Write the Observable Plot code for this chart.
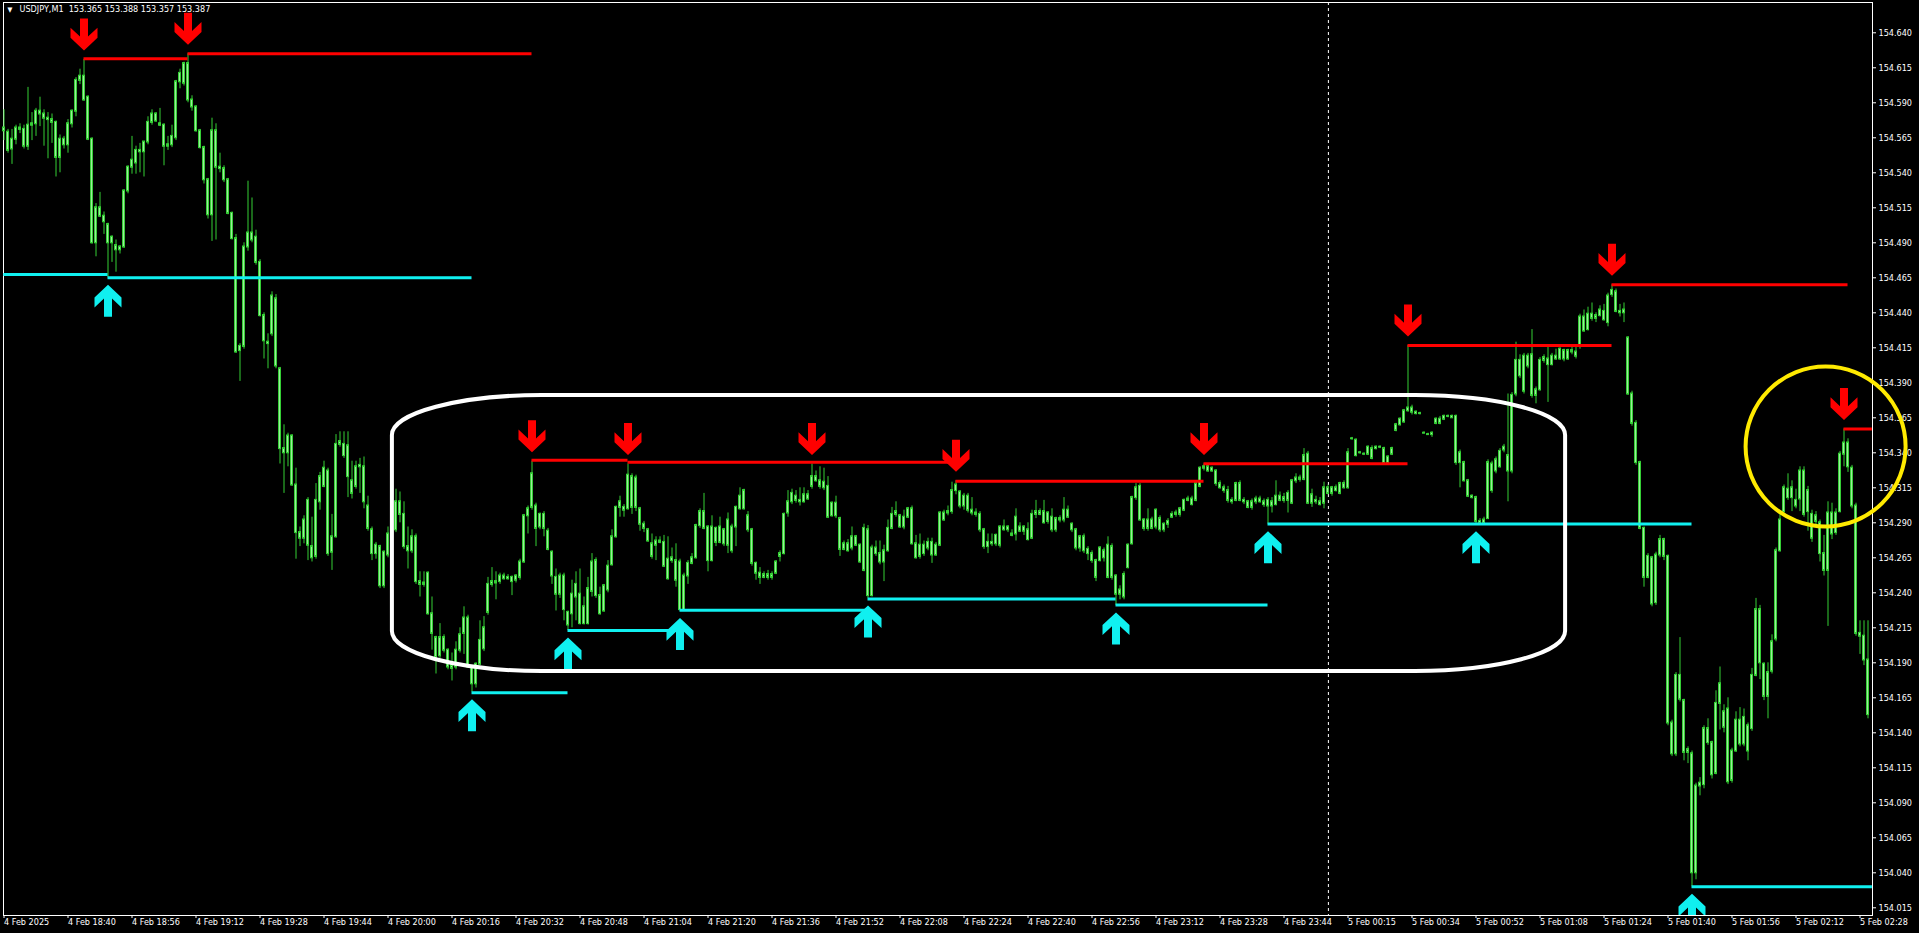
<!DOCTYPE html>
<html><head><meta charset="utf-8">
<script src="https://cdn.jsdelivr.net/npm/d3@7"></script>
<script src="https://cdn.jsdelivr.net/npm/@observablehq/plot@0.6"></script>
<style>html,body{margin:0;padding:0;background:#000;overflow:hidden}</style>
</head><body><div id="chart"></div>
<script>
const header = "USDJPY,M1  153.365 153.388 153.357 153.387";

const open = [154.572,154.569,154.557,154.564,154.572,154.571,154.559,154.574,154.575,154.584,
154.582,154.579,154.578,154.576,154.551,154.564,154.560,154.575,154.584,154.606,
154.609,154.594,154.564,154.490,154.515,154.509,154.503,154.490,154.488,154.485,
154.487,154.527,154.544,154.547,154.556,154.555,154.562,154.576,154.582,154.575,
154.574,154.559,154.560,154.565,154.605,154.604,154.618,154.592,154.587,154.570,
154.558,154.535,154.510,154.570,154.544,154.543,154.535,154.511,154.493,154.413,
154.416,154.487,154.497,154.494,154.476,154.438,154.419,154.425,154.450,154.400,
154.343,154.340,154.352,154.317,154.283,154.279,154.306,154.273,154.266,154.305,
154.316,154.327,154.269,154.280,154.346,154.346,154.345,154.320,154.316,154.331,
154.330,154.302,154.285,154.268,154.273,154.245,154.267,154.282,154.285,154.305,
154.296,154.273,154.270,154.280,154.248,154.246,154.254,154.225,154.208,154.195,
154.208,154.199,154.188,154.187,154.199,154.211,154.222,154.186,154.175,154.189,
154.200,154.226,154.246,154.248,154.248,154.252,154.250,154.251,154.249,154.251,
154.262,154.295,154.301,154.302,154.287,154.296,154.284,154.269,154.251,154.239,
154.252,154.226,154.225,154.237,154.239,154.218,154.218,154.241,154.263,154.238,
154.227,154.242,154.260,154.280,154.301,154.301,154.300,154.323,154.301,154.300,
154.289,154.285,154.275,154.274,154.277,154.276,154.264,154.265,154.263,154.262,
154.228,154.252,154.261,154.265,154.288,154.298,154.287,154.263,154.286,154.276,
154.285,154.274,154.287,154.287,154.300,154.313,154.295,154.285,154.261,154.254,
154.251,154.253,154.251,154.254,154.266,154.268,154.297,154.305,154.309,154.306,
154.305,154.310,154.316,154.323,154.320,154.315,154.316,154.295,154.304,154.293,
154.271,154.275,154.272,154.280,154.274,154.256,154.285,154.238,154.272,154.268,
154.262,154.270,154.286,154.296,154.295,154.287,154.294,154.300,154.275,154.266,
154.274,154.272,154.276,154.267,154.274,154.297,154.297,154.298,154.313,154.312,
154.302,154.309,154.299,154.297,154.296,154.285,154.273,154.276,154.281,154.274,
154.287,154.285,154.282,154.282,154.287,154.284,154.285,154.279,154.296,154.298,
154.298,154.291,154.294,154.285,154.293,154.292,154.299,154.289,154.285,154.272,
154.280,154.271,154.268,154.263,154.263,154.270,154.251,154.273,154.252,154.239,
154.237,154.258,154.275,154.308,154.316,154.292,154.286,154.292,154.287,154.293,
154.285,154.289,154.294,154.296,154.296,154.299,154.306,154.307,154.306,154.316,
154.329,154.330,154.327,154.327,154.318,154.315,154.313,154.306,154.306,154.318,
154.306,154.305,154.301,154.305,154.307,154.305,154.306,154.302,154.303,154.309,
154.306,154.306,154.304,154.320,154.322,154.321,154.339,154.304,154.306,154.305,
154.304,154.315,154.311,154.315,154.311,154.318,154.315,154.350,154.349,154.340,
154.339,154.339,154.343,154.343,154.344,154.343,154.333,154.339,154.356,154.360,
154.362,154.370,154.372,154.369,154.368,154.354,154.353,154.353,154.361,154.364,
154.364,154.366,154.366,154.366,154.340,154.333,154.320,154.309,154.308,154.291,
154.290,154.293,154.332,154.327,154.330,154.342,154.338,154.327,154.382,154.406,
154.384,154.409,154.410,154.381,154.385,154.406,154.407,154.403,154.409,154.407,
154.413,154.407,154.413,154.412,154.416,154.437,154.428,154.439,154.436,154.438,
154.441,154.433,154.453,154.455,154.441,154.440,154.422,154.382,154.361,154.333,
154.286,154.251,154.265,154.233,154.267,154.278,154.266,154.147,154.125,154.181,
154.163,154.126,154.125,154.040,154.102,154.103,154.143,154.133,154.111,154.161,
154.155,154.157,154.106,154.127,154.149,154.132,154.145,154.143,154.181,154.228,
154.189,154.166,154.184,154.207,154.270,154.298,154.314,154.308,154.306,154.307,
154.327,154.298,154.296,154.291,154.290,154.268,154.256,154.297,154.283,154.298,
154.339,154.347,154.329,154.302,154.211,154.209,154.192];

const high = [154.585,154.571,154.571,154.574,154.575,154.574,154.601,154.583,154.586,154.594,
154.585,154.583,154.582,154.577,154.567,154.566,154.578,154.585,154.608,154.614,
154.621,154.595,154.565,154.518,154.526,154.512,154.504,154.495,154.492,154.488,
154.528,154.545,154.566,154.559,154.561,154.562,154.580,154.585,154.583,154.586,
154.575,154.566,154.574,154.606,154.614,154.619,154.625,154.595,154.588,154.571,
154.559,154.536,154.579,154.575,154.554,154.545,154.536,154.512,154.496,154.418,
154.490,154.534,154.522,154.499,154.478,154.440,154.425,154.455,154.453,154.401,
154.360,154.354,154.353,154.329,154.287,154.295,154.308,154.294,154.318,154.326,
154.334,154.329,154.296,154.353,154.355,154.355,154.355,154.334,154.334,154.336,
154.337,154.309,154.287,154.276,154.274,154.270,154.287,154.300,154.314,154.312,
154.305,154.287,154.285,154.282,154.255,154.255,154.255,154.237,154.209,154.218,
154.210,154.200,154.197,154.205,154.215,154.230,154.224,154.187,154.190,154.220,
154.223,154.251,154.258,154.255,154.254,154.254,154.253,154.252,154.253,154.264,
154.296,154.302,154.334,154.304,154.297,154.298,154.286,154.270,154.257,154.254,
154.254,154.227,154.249,154.255,154.257,154.237,154.251,154.268,154.265,154.244,
154.246,154.263,154.285,154.302,154.309,154.303,154.332,154.325,154.324,154.301,
154.291,154.286,154.282,154.280,154.280,154.281,154.280,154.272,154.275,154.264,
154.254,154.263,154.268,154.289,154.300,154.311,154.288,154.295,154.287,154.294,
154.286,154.297,154.289,154.302,154.315,154.314,154.298,154.286,154.262,154.258,
154.255,154.256,154.255,154.263,154.270,154.297,154.313,154.314,154.313,154.315,
154.315,154.313,154.332,154.327,154.330,154.329,154.323,154.305,154.309,154.294,
154.277,154.278,154.287,154.281,154.275,154.289,154.288,154.274,154.277,154.277,
154.274,154.292,154.301,154.305,154.296,154.299,154.301,154.302,154.281,154.282,
154.277,154.279,154.279,154.276,154.298,154.299,154.302,154.319,154.320,154.313,
154.311,154.311,154.308,154.300,154.298,154.286,154.282,154.282,154.282,154.288,
154.292,154.288,154.285,154.300,154.290,154.288,154.290,154.299,154.306,154.300,
154.306,154.298,154.300,154.294,154.295,154.308,154.302,154.290,154.286,154.281,
154.282,154.273,154.270,154.264,154.273,154.272,154.280,154.275,154.253,154.245,
154.255,154.275,154.309,154.318,154.318,154.293,154.300,154.294,154.300,154.295,
154.290,154.293,154.298,154.299,154.301,154.307,154.309,154.309,154.318,154.330,
154.332,154.331,154.330,154.328,154.320,154.317,154.316,154.308,154.319,154.320,
154.308,154.306,154.307,154.309,154.309,154.307,154.308,154.308,154.320,154.312,
154.311,154.313,154.321,154.325,154.324,154.343,154.341,154.314,154.309,154.308,
154.319,154.317,154.316,154.317,154.319,154.320,154.343,154.351,154.350,154.341,
154.340,154.345,154.345,154.345,154.345,154.344,154.338,154.344,154.361,154.365,
154.371,154.4166,154.374,154.370,154.369,154.355,154.354,154.355,154.365,154.366,
154.367,154.367,154.367,154.367,154.342,154.334,154.321,154.310,154.309,154.293,
154.294,154.335,154.334,154.337,154.343,154.346,154.382,154.383,154.419,154.410,
154.411,154.411,154.428,154.387,154.408,154.410,154.416,154.411,154.414,154.415,
154.414,154.414,154.416,154.417,154.439,154.442,154.444,154.447,154.440,154.445,
154.446,154.454,154.460,154.457,154.446,154.447,154.423,154.384,154.363,154.334,
154.287,154.268,154.266,154.269,154.281,154.279,154.267,154.149,154.183,154.208,
154.164,154.130,154.127,154.104,154.108,154.145,154.150,154.134,154.170,154.187,
154.160,154.165,154.129,154.155,154.158,154.157,154.147,154.186,154.236,154.231,
154.190,154.190,154.210,154.272,154.296,154.317,154.325,154.320,154.314,154.330,
154.330,154.316,154.299,154.298,154.292,154.281,154.305,154.304,154.300,154.341,
154.357,154.350,154.331,154.304,154.220,154.220,154.220];

const low = [154.563,154.554,154.546,154.560,154.568,154.557,154.556,154.563,154.566,154.573,
154.559,154.550,154.561,154.537,154.540,154.557,154.554,154.572,154.580,154.603,
154.591,154.563,154.489,154.480,154.508,154.496,154.465,154.476,154.469,154.482,
154.486,154.525,154.539,154.539,154.540,154.537,154.560,154.574,154.576,154.573,
154.545,154.556,154.558,154.563,154.600,154.602,154.590,154.584,154.569,154.557,
154.532,154.507,154.491,154.492,154.540,154.533,154.510,154.492,154.411,154.391,
154.414,154.484,154.490,154.474,154.437,154.407,154.400,154.423,154.400,154.332,
154.311,154.330,154.316,154.264,154.273,154.275,154.263,154.262,154.264,154.299,
154.315,154.266,154.256,154.279,154.344,154.336,154.308,154.307,154.314,154.311,
154.300,154.284,154.263,154.264,154.243,154.243,154.265,154.280,154.283,154.290,
154.271,154.257,154.268,154.246,154.237,154.244,154.224,154.199,154.182,154.193,
154.197,154.185,154.177,154.185,154.197,154.196,154.186,154.169,154.172,154.188,
154.198,154.224,154.244,154.235,154.246,154.249,154.249,154.238,154.247,154.249,
154.261,154.282,154.299,154.273,154.285,154.280,154.270,154.246,154.227,154.236,
154.220,154.213,154.215,154.220,154.217,154.217,154.217,154.237,154.236,154.224,
154.226,154.240,154.259,154.279,154.294,154.294,154.299,154.296,154.298,154.284,
154.283,154.276,154.264,154.263,154.275,154.258,154.249,154.261,154.244,154.227,
154.227,154.246,154.260,154.264,154.286,154.285,154.255,154.262,154.273,154.275,
154.273,154.268,154.268,154.273,154.299,154.299,154.283,154.259,154.249,154.246,
154.250,154.249,154.249,154.253,154.262,154.267,154.294,154.303,154.304,154.302,
154.304,154.306,154.314,154.319,154.314,154.313,154.293,154.294,154.293,154.266,
154.270,154.269,154.270,154.273,154.261,154.255,154.236,154.237,154.266,154.260,
154.248,154.269,154.285,154.294,154.286,154.285,154.293,154.274,154.264,154.264,
154.266,154.270,154.261,154.266,154.273,154.291,154.295,154.296,154.310,154.300,
154.299,154.297,154.295,154.294,154.283,154.271,154.268,154.273,154.273,154.272,
154.284,154.283,154.280,154.277,154.283,154.281,154.277,154.278,154.293,154.295,
154.289,154.289,154.283,154.283,154.290,154.290,154.293,154.283,154.270,154.269,
154.268,154.263,154.261,154.248,154.262,154.262,154.250,154.249,154.231,154.235,
154.235,154.257,154.274,154.306,154.291,154.284,154.284,154.285,154.285,154.283,
154.283,154.286,154.293,154.294,154.294,154.298,154.305,154.302,154.305,154.315,
154.327,154.326,154.326,154.316,154.314,154.311,154.304,154.303,154.305,154.305,
154.303,154.300,154.299,154.303,154.304,154.301,154.289,154.297,154.302,154.305,
154.304,154.297,154.303,154.318,154.319,154.320,154.303,154.301,154.303,154.302,
154.300,154.310,154.309,154.312,154.310,154.314,154.314,154.349,154.337,154.339,
154.338,154.338,154.335,154.342,154.343,154.331,154.332,154.338,154.355,154.359,
154.361,154.369,154.367,154.367,154.367,154.354,154.353,154.351,154.360,154.360,
154.363,154.365,154.365,154.331,154.315,154.319,154.308,154.307,154.289,154.290,
154.290,154.293,154.311,154.325,154.329,154.340,154.305,154.325,154.380,154.393,
154.382,154.400,154.379,154.375,154.384,154.404,154.376,154.402,154.406,154.406,
154.405,154.406,154.410,154.407,154.414,154.426,154.427,154.434,154.433,154.437,
154.434,154.430,154.451,154.440,154.437,154.433,154.381,154.359,154.331,154.285,
154.244,154.250,154.230,154.231,154.265,154.263,154.145,154.123,154.123,154.162,
154.120,154.118,154.030,154.035,154.095,154.100,154.131,154.107,154.110,154.142,
154.140,154.103,154.104,154.126,154.130,154.130,154.120,154.141,154.180,154.178,
154.163,154.150,154.182,154.205,154.269,154.297,154.306,154.298,154.300,154.298,
154.294,154.284,154.276,154.287,154.262,154.252,154.216,154.278,154.281,154.297,
154.330,154.326,154.300,154.209,154.196,154.188,154.150];

const close = [154.570,154.556,154.564,154.572,154.571,154.559,154.574,154.575,154.584,154.582,
154.579,154.578,154.576,154.551,154.564,154.560,154.575,154.584,154.606,154.609,
154.592,154.564,154.490,154.515,154.509,154.505,154.490,154.494,154.485,154.487,
154.527,154.544,154.549,154.556,154.555,154.562,154.576,154.582,154.577,154.574,
154.559,154.560,154.566,154.605,154.611,154.618,154.592,154.587,154.570,154.558,
154.535,154.510,154.570,154.544,154.543,154.535,154.511,154.493,154.412,154.416,
154.487,154.497,154.492,154.476,154.438,154.420,154.418,154.452,154.402,154.343,
154.340,154.352,154.317,154.283,154.279,154.292,154.274,154.265,154.306,154.323,
154.329,154.268,154.280,154.346,154.348,154.338,154.323,154.311,154.330,154.330,
154.305,154.286,154.268,154.274,154.245,154.269,154.282,154.297,154.305,154.296,
154.273,154.270,154.280,154.248,154.246,154.247,154.225,154.211,154.194,154.208,
154.199,154.187,154.186,154.199,154.210,154.222,154.187,154.175,154.189,154.206,
154.215,154.246,154.248,154.247,154.252,154.250,154.251,154.248,154.252,154.262,
154.295,154.300,154.325,154.286,154.296,154.286,154.271,154.252,154.239,154.252,
154.228,154.217,154.239,154.246,154.218,154.230,154.243,154.262,154.238,154.225,
154.245,154.259,154.280,154.301,154.305,154.299,154.324,154.301,154.322,154.289,
154.286,154.277,154.266,154.277,154.276,154.259,154.250,154.263,154.249,154.228,
154.252,154.261,154.265,154.288,154.298,154.286,154.263,154.287,154.276,154.287,
154.275,154.292,154.270,154.301,154.309,154.300,154.285,154.261,154.254,154.251,
154.253,154.251,154.253,154.262,154.268,154.296,154.305,154.311,154.306,154.305,
154.310,154.307,154.323,154.320,154.316,154.319,154.294,154.304,154.295,154.271,
154.275,154.270,154.280,154.274,154.262,154.286,154.238,154.272,154.268,154.262,
154.270,154.286,154.296,154.298,154.287,154.294,154.300,154.275,154.265,154.274,
154.268,154.276,154.267,154.274,154.297,154.292,154.298,154.313,154.317,154.302,
154.309,154.299,154.297,154.296,154.285,154.273,154.276,154.275,154.275,154.287,
154.285,154.287,154.281,154.294,154.284,154.287,154.278,154.296,154.298,154.296,
154.290,154.297,154.285,154.293,154.292,154.299,154.294,154.285,154.272,154.280,
154.270,154.268,154.263,154.251,154.272,154.265,154.274,154.251,154.239,154.242,
154.253,154.274,154.308,154.315,154.292,154.286,154.292,154.286,154.299,154.285,
154.289,154.291,154.296,154.297,154.300,154.306,154.307,154.303,154.318,154.329,
154.330,154.327,154.329,154.318,154.315,154.313,154.306,154.305,154.318,154.306,
154.305,154.301,154.305,154.307,154.305,154.303,154.302,154.305,154.309,154.306,
154.308,154.311,154.320,154.322,154.321,154.338,154.304,154.310,154.305,154.303,
154.315,154.311,154.315,154.313,154.318,154.315,154.340,154.350,154.338,154.340,
154.339,154.344,154.336,154.344,154.344,154.333,154.337,154.343,154.360,154.364,
154.370,154.372,154.369,154.368,154.368,154.354,154.353,154.354,154.364,154.361,
154.366,154.366,154.365,154.333,154.333,154.320,154.309,154.308,154.291,154.290,
154.292,154.333,154.313,154.335,154.341,154.344,154.327,154.381,154.406,154.395,
154.409,154.402,154.381,154.385,154.406,154.408,154.403,154.409,154.407,154.414,
154.407,154.413,154.412,154.409,154.437,154.427,154.439,154.436,154.438,154.442,
154.435,154.452,154.456,154.441,154.440,154.442,154.382,154.361,154.333,154.286,
154.251,154.266,154.232,154.267,154.278,154.266,154.147,154.125,154.181,154.164,
154.126,154.128,154.040,154.102,154.104,154.143,154.133,154.110,154.161,154.175,
154.144,154.105,154.127,154.149,154.132,154.151,154.127,154.181,154.228,154.190,
154.166,154.183,154.205,154.270,154.292,154.315,154.308,154.315,154.302,154.327,
154.296,154.313,154.279,154.295,154.268,154.256,154.297,154.282,154.297,154.339,
154.347,154.330,154.302,154.211,154.209,154.192,154.153];

// time axis (one tick every 16 bars)
const xTickBars = [0,16,32,48,64,80,96,112,128,144,160,176,192,208,224,240,256,272,288,304,320,336,352,368,384,400,416,432,448,464];
const xTickLabels = ["4 Feb 2025","4 Feb 18:40","4 Feb 18:56","4 Feb 19:12","4 Feb 19:28","4 Feb 19:44","4 Feb 20:00","4 Feb 20:16","4 Feb 20:32","4 Feb 20:48","4 Feb 21:04","4 Feb 21:20","4 Feb 21:36","4 Feb 21:52","4 Feb 22:08","4 Feb 22:24","4 Feb 22:40","4 Feb 22:56","4 Feb 23:12","4 Feb 23:28","4 Feb 23:44","5 Feb 00:15","5 Feb 00:34","5 Feb 00:52","5 Feb 01:08","5 Feb 01:24","5 Feb 01:40","5 Feb 01:56","5 Feb 02:12","5 Feb 02:28"];
const yTicks = [154.015,154.040,154.065,154.090,154.115,154.140,154.165,154.190,154.215,154.240,154.265,154.290,154.315,154.340,154.365,154.390,154.415,154.440,154.465,154.490,154.515,154.540,154.565,154.590,154.615,154.640];
const daySeparator = [331.1];

// resistance (red) and support (cyan) levels
const redFrom  = [20, 46, 132, 156, 238, 300, 351, 402, 460];
const redTo    = [46, 132, 156, 238, 300, 351, 402, 461, 467.1];
const redLevel = [154.6215, 154.625, 154.3346, 154.3332, 154.3197, 154.3322, 154.4166, 154.460, 154.357];
const cyanFrom  = [-0.05, 26, 117, 141, 169, 216, 278, 316, 422];
const cyanTo    = [26, 117, 141, 169, 216, 278, 316, 422, 467.1];
const cyanLevel = [154.4674, 154.465, 154.1686, 154.2131, 154.2275, 154.2356, 154.2312, 154.2891, 154.030];
const redArrowBars  = [20, 46, 132, 156, 202, 238, 300, 351, 402, 460];
const cyanArrowBars = [26, 117, 141, 169, 216, 278, 316, 368, 422];

// hand-drawn annotations (bar index / price)
const boxBars = [97.1, 390.4];
const boxPrices = [154.1838, 154.3809];
const circleBar = 455.4;
const circlePrice = 154.3445;

const N = open.length;
if (high.length !== N || low.length !== N || close.length !== N) throw new Error(`length mismatch ${N} ${high.length} ${low.length} ${close.length}`);
const bars = open.map((o, i) => ({i, open: o, high: high[i], low: low[i], close: close[i]}));
const redSegs = redFrom.map((f, k) => ({from: f, to: redTo[k], level: redLevel[k]}));
const cyanSegs = cyanFrom.map((f, k) => ({from: f, to: cyanTo[k], level: cyanLevel[k]}));

const downArrow = {draw(c) {
  c.moveTo(0, 0); c.lineTo(13.5, -12.7); c.lineTo(13.5, -22.7); c.lineTo(4, -13.8); c.lineTo(4, -32);
  c.lineTo(-4, -32); c.lineTo(-4, -13.8); c.lineTo(-13.5, -22.7); c.lineTo(-13.5, -12.7); c.closePath();
}};
const upArrow = {draw(c) {
  c.moveTo(0, 0); c.lineTo(13.5, 12.7); c.lineTo(13.5, 22.7); c.lineTo(4, 13.8); c.lineTo(4, 32);
  c.lineTo(-4, 32); c.lineTo(-4, 13.8); c.lineTo(-13.5, 22.7); c.lineTo(-13.5, 12.7); c.closePath();
}};

const WICK = "#35cf35", BODY_FILL = "#9ceb9c", RED = "#ff0000", CYAN = "#10f0f0";

const chart = Plot.plot({
  width: 1919, height: 933,
  marginLeft: 0, marginRight: 47, marginTop: 2, marginBottom: 18,
  style: {background: "#000", color: "#fff", fontFamily: "'DejaVu Sans Condensed', 'DejaVu Sans', sans-serif", fontSize: "9px", overflow: "visible"},
  x: {domain: [-0.875, 467.125], axis: null},
  y: {domain: [154.0095, 154.66164], axis: null},
  marks: [
    Plot.frame({stroke: "#fff", insetLeft: 3}),
    Plot.ruleX(daySeparator, {x: d => d, stroke: "#fff", strokeDasharray: "3,3", strokeWidth: 1}),
    Plot.ruleX(bars, {x: "i", y1: "low", y2: "high", stroke: WICK, strokeWidth: 1}),
    Plot.rect(bars, {x1: d => d.i - 0.25, x2: d => d.i + 0.25, y1: "open", y2: "close", insetTop: -0.5, insetBottom: -0.5, fill: BODY_FILL, stroke: WICK, strokeWidth: 1}),
    Plot.ruleY(redSegs, {y: "level", x1: "from", x2: "to", stroke: RED, strokeWidth: 3}),
    Plot.ruleY(cyanSegs, {y: "level", x1: "from", x2: "to", stroke: CYAN, strokeWidth: 3}),
    Plot.dot(redArrowBars, {x: d => d, y: d => high[d], symbol: downArrow, fill: RED, stroke: "none", dy: -9}),
    Plot.dot(cyanArrowBars, {x: d => d, y: d => low[d], symbol: upArrow, fill: CYAN, stroke: "none", dy: 7, clip: true}),
    Plot.rect([0], {x1: () => boxBars[0], x2: () => boxBars[1], y1: () => boxPrices[0], y2: () => boxPrices[1], rx: 150, ry: 40, fill: "none", stroke: "#fff", strokeWidth: 4}),
    Plot.axisX(xTickBars, {anchor: "bottom", tickSize: 3, tickPadding: 0, textAnchor: "start", tickFormat: d => xTickLabels[xTickBars.indexOf(d)], fontSize: 9, label: null}),
    Plot.axisY(yTicks, {anchor: "right", tickSize: 3, tickPadding: 3, tickFormat: d3.format(".3f"), fontSize: 9, label: null}),
    Plot.text(["\u25BC"], {frameAnchor: "top-left", dx: 7, dy: 5, textAnchor: "start", lineAnchor: "top", fill: "#fff", fontSize: 7}),
    Plot.text([header], {frameAnchor: "top-left", dx: 19, dy: 3, textAnchor: "start", lineAnchor: "top", fill: "#fff", fontSize: 9}),
    Plot.dot([0], {x: () => circleBar, y: () => circlePrice, r: 80, fill: "none", stroke: "#ffea00", strokeWidth: 4})
  ]
});
document.getElementById("chart").append(chart);
</script>
</body></html>
